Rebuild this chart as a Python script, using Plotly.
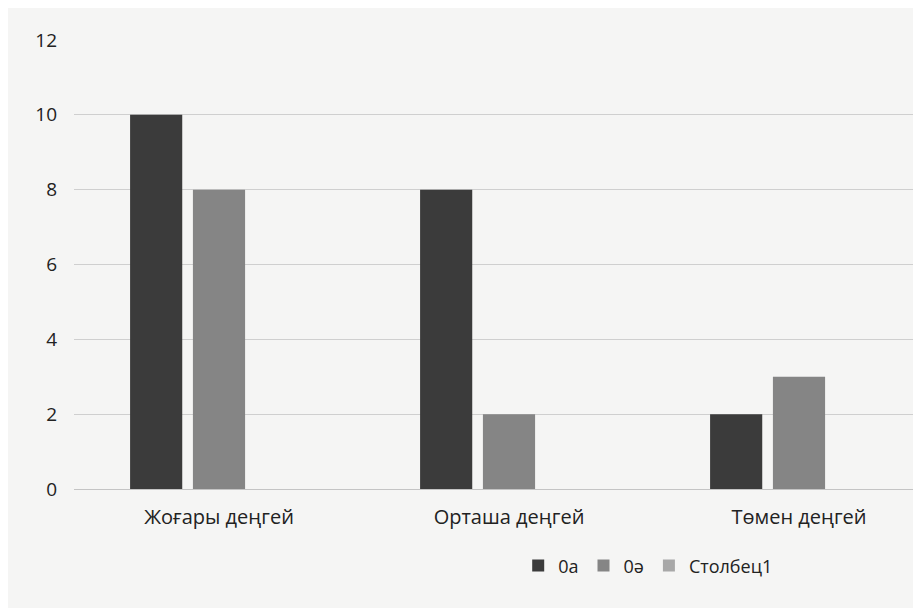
import plotly.graph_objects as go

categories = ["Жоғары деңгей", "Орташа деңгей", "Төмен деңгей"]
series_names = ["0а", "0ә", "Столбец1"]
values_0a = [10, 8, 2]
values_0ae = [8, 2, 3]
values_col1 = [None, None, None]
colors = ["#3b3b3b", "#858585", "#a8a8a8"]

fig = go.Figure()
for name, vals, c in zip(series_names, [values_0a, values_0ae, values_col1], colors):
    fig.add_trace(go.Bar(x=categories, y=vals, name=name, marker=dict(color=c, line=dict(width=0))))

fig.update_layout(
    width=940, height=608,
    barmode="group", bargap=0.35, bargroupgap=0.17,
    paper_bgcolor="#f5f5f4", plot_bgcolor="#f5f5f4",
    margin=dict(l=66, r=4, t=32, b=127),
    font=dict(family="Open Sans, Noto Sans, sans-serif", color="#222222", size=18),
    yaxis=dict(range=[0, 12], dtick=2, showgrid=True, gridcolor="#cfcfcf", gridwidth=1,
               zeroline=True, zerolinecolor="#c4c4c4", zerolinewidth=1,
               tickfont=dict(size=19), ticklabelstandoff=16, showline=False),
    xaxis=dict(tickfont=dict(size=20), showline=False, ticks="", ticklabelstandoff=14),
    legend=dict(orientation="h", x=0.66, xanchor="center", y=-0.13, yanchor="top",
                font=dict(size=18), traceorder="normal", itemwidth=30),
    showlegend=True,
)
fig.write_html("out.html")
